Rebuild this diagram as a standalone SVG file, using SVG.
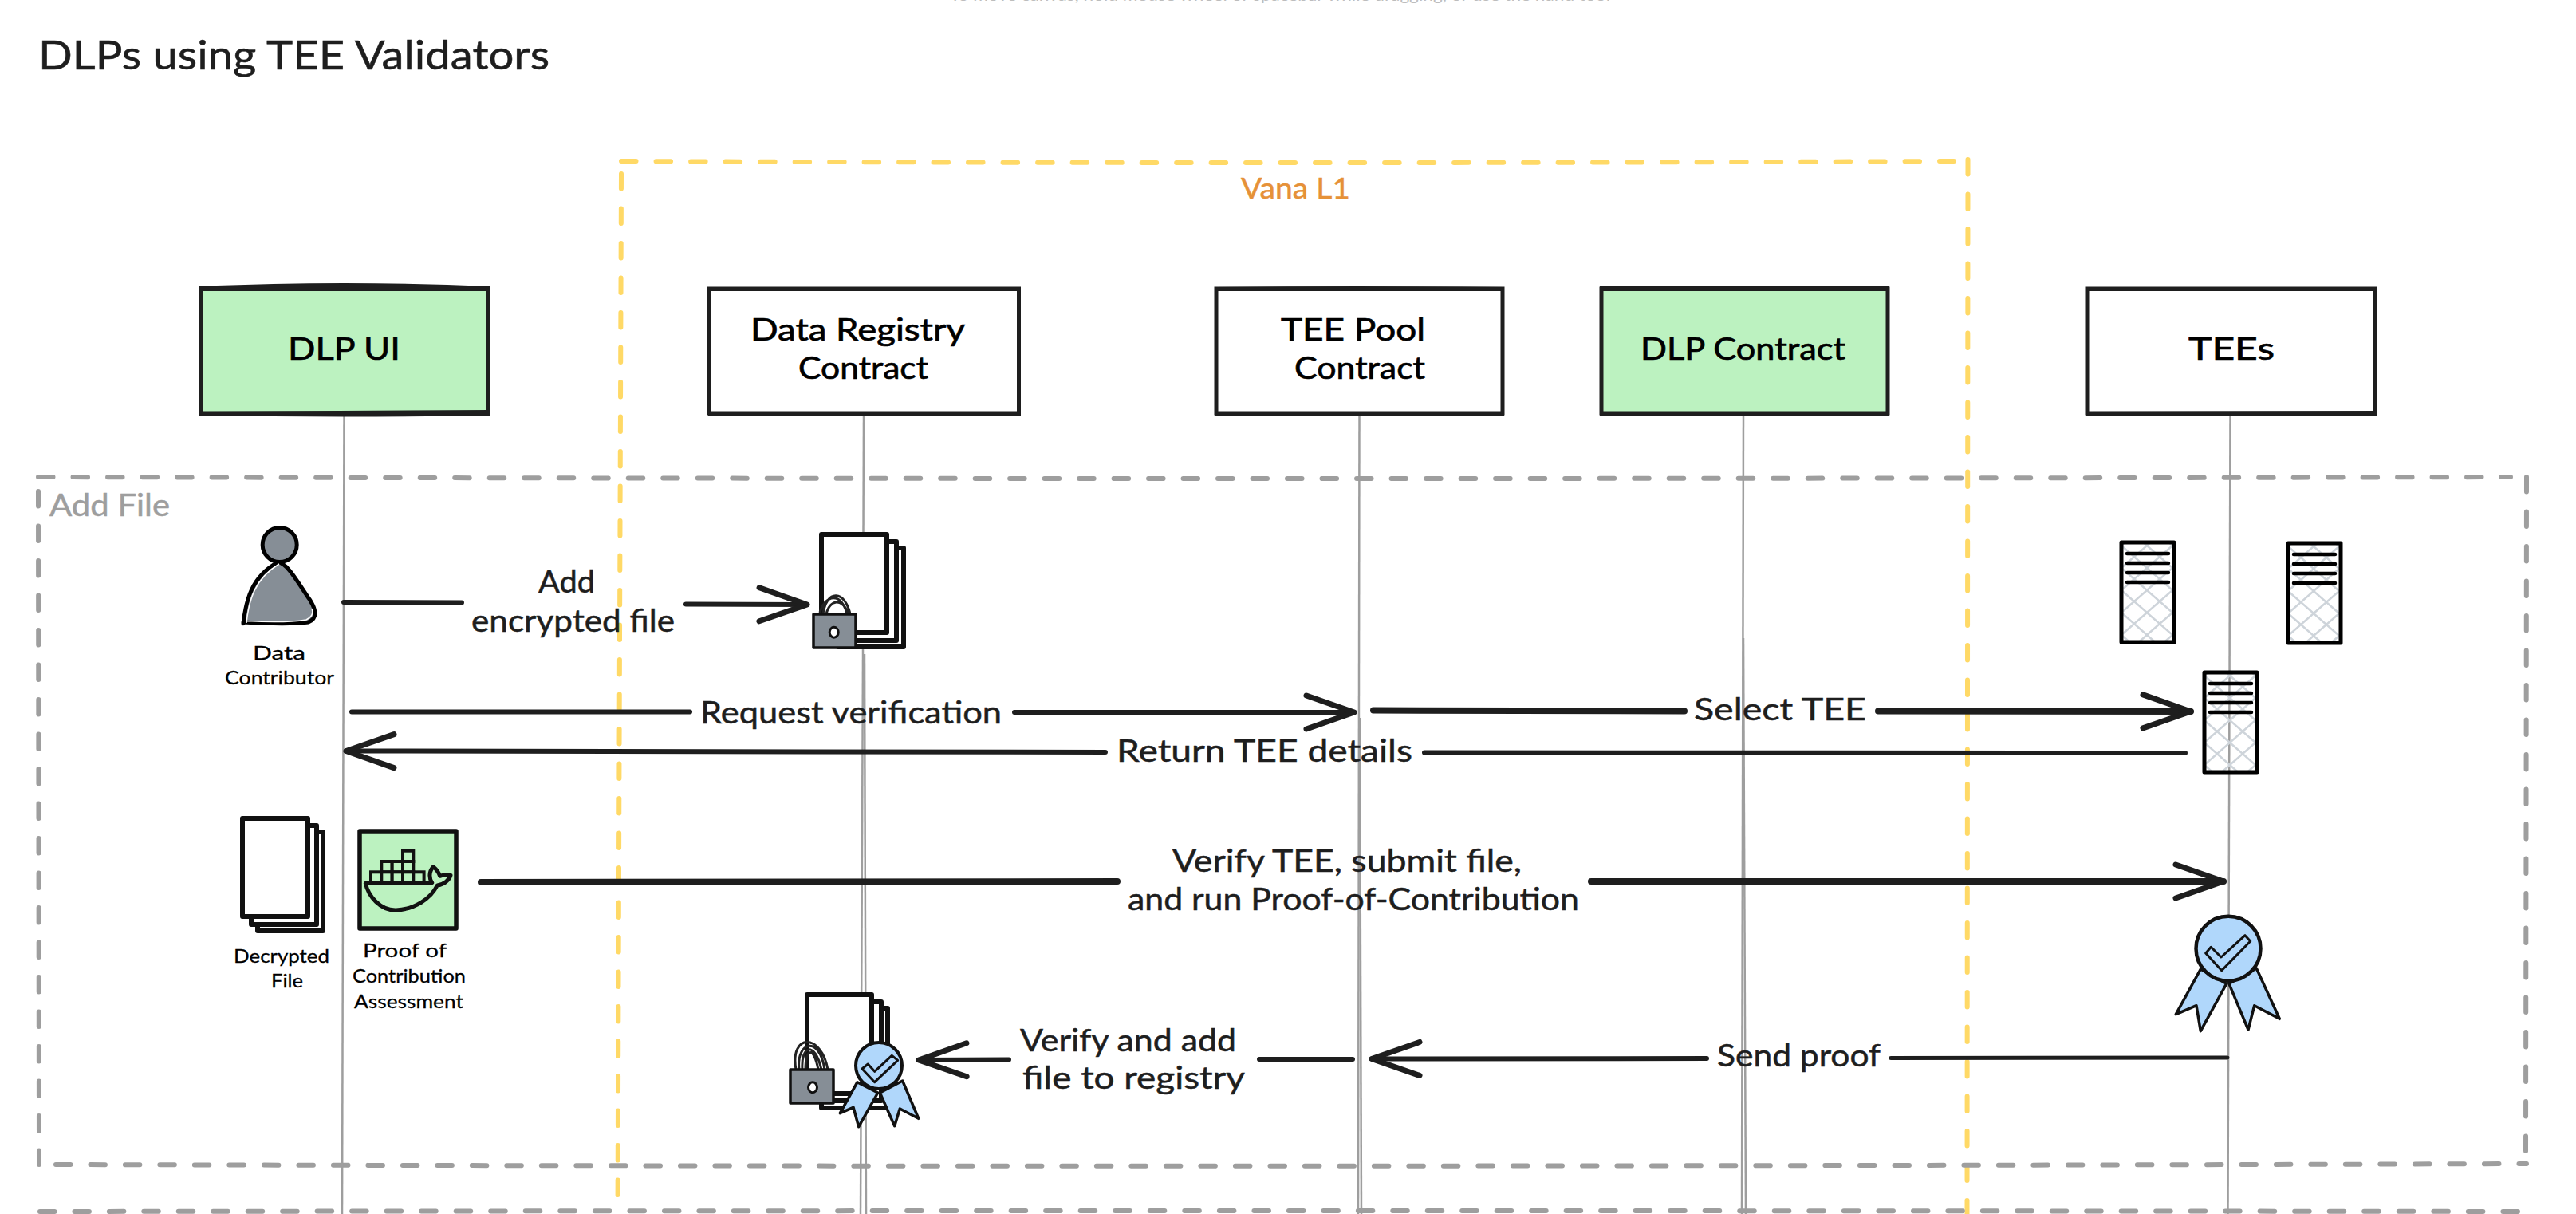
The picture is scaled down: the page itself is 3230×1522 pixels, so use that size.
<svg xmlns="http://www.w3.org/2000/svg" width="3230" height="1522" viewBox="0 0 3230 1522">
<style>
text{font-family:"Lato","Noto Sans","DejaVu Sans",sans-serif;fill:#1e1e1e;stroke:#1e1e1e;stroke-width:.5}
.t-title{font-size:50px}
.t-node{font-size:39px;fill:#000;stroke:#000;stroke-width:.7}
.t-edge{font-size:38px}
.t-small{font-size:24px;fill:#000;stroke:#000;stroke-width:.3}
.t-frame{font-size:38px;fill:#9e9e9e;stroke:#9e9e9e}
.t-vana{font-size:36px;fill:#e69138;stroke:#e69138}
.t-hint{font-size:20px;fill:#bdbdbd;stroke:none}
.yellow{fill:none;stroke:#ffd966;stroke-width:6;stroke-dasharray:18.5 25;stroke-linecap:round}
.gray{fill:none;stroke:#9e9e9e;stroke-width:6;stroke-dasharray:18.5 25;stroke-linecap:round}
.life{fill:none;stroke:#9e9e9e;stroke-width:2.5}
.box{stroke:#1e1e1e;stroke-width:5;fill:#fff}
.green{fill:#bcf2c0}
.bar{fill:#1e1e1e}
.edge{fill:none;stroke:#1e1e1e;stroke-width:6;stroke-linecap:round}
.heavy{stroke-width:8}
.light{stroke-width:5}
.sheet{fill:#fff;stroke:#111;stroke-width:6;stroke-linejoin:round}
.lock{fill:#868e96;stroke:#111;stroke-width:3.5;stroke-linejoin:round}
.shackle{fill:none;stroke:#222;stroke-width:3}
.hole{fill:#fff;stroke:#111;stroke-width:3}
.badge{fill:#b0d7fb;stroke:#111;stroke-linejoin:round}
.cell{fill:#bcf2c0;stroke:#111;stroke-width:4}
.srv{fill:url(#hatch);stroke:#000;stroke-width:5;stroke-linejoin:round}
.srvl{stroke:#000;stroke-width:4.5;stroke-linecap:round}
</style>
<defs>
<pattern id="hatch" patternUnits="userSpaceOnUse" width="32" height="28" x="2" y="6">
<path d="M0,0L32,28M0,28L32,0" stroke="#ced4da" stroke-width="2.5" fill="none"/>
</pattern>
<marker id="head" markerUnits="userSpaceOnUse" markerWidth="72" markerHeight="60" refX="64" refY="30" orient="auto" overflow="visible">
<path d="M4,9L64,30L4,51" fill="none" stroke="#1e1e1e" stroke-width="7" stroke-linecap="round" stroke-linejoin="round"/>
</marker>
<g id="server">
<rect class="srv" x="2" y="2" width="66" height="125"/>
<path class="srvl" d="M9,16H61M9,28H61M9,40H61M9,52H61"/>
</g>
</defs>
<rect width="3230" height="1522" fill="#fff"/>
<text class="t-hint" x="1191" y="1" textLength="828" lengthAdjust="spacingAndGlyphs">To move canvas, hold mouse wheel or spacebar while dragging, or use the hand tool</text>
<text id="title" class="t-title" x="48" y="87" textLength="641" lengthAdjust="spacingAndGlyphs">DLPs using TEE Validators</text>

<g id="frame-vana">
<path class="yellow" d="M779,202Q1620,206 2450,202"/>
<path class="yellow" d="M779,218L774.5,1522"/>
<path class="yellow" d="M2467.5,200L2466.5,1522"/>
<text class="t-vana" x="1556" y="249" textLength="137" lengthAdjust="spacingAndGlyphs">Vana L1</text>
</g>
<g id="frame-add-file">
<path class="gray" d="M48,598Q1600,602 3148,598"/>
<path class="gray" d="M48,616L49,1460"/>
<path class="gray" d="M3168,598L3167,1458"/>
<path class="gray" d="M70,1460Q1600,1464 3168,1459"/>
<text class="t-frame" x="62" y="647" textLength="151" lengthAdjust="spacingAndGlyphs">Add File</text>
</g>
<g id="frame-next">
<path class="gray" d="M50,1519Q1600,1517 3172,1519"/>
</g>

<g id="lifelines">
<path class="life" d="M431.5,520L429,1522"/>
<path class="life" d="M1083,520L1082,820"/>
<path class="life" d="M1082,820L1079,1522"/>
<path class="life" d="M1084,820L1086,1522"/>
<path class="life" d="M1704.5,520L1703,1522"/>
<path class="life" d="M1705,900L1707,1522"/>
<path class="life" d="M2186,520L2184,1522"/>
<path class="life" d="M2186,800L2189,1522"/>
<path class="life" d="M2796.5,520L2793.5,1522"/>
</g>

<g id="connectors">
<g id="edge-add-file">
<path class="edge" d="M431,755L579,755.5"/>
<path class="edge" d="M860,757.5L1012,758" marker-end="url(#head)"/>
<text class="t-edge" x="675" y="743" textLength="71" lengthAdjust="spacingAndGlyphs">Add</text>
<text class="t-edge" x="591" y="792" textLength="255" lengthAdjust="spacingAndGlyphs">encrypted file</text>
</g>
<g id="edge-request">
<path class="edge" d="M441,892.5L865,892.5"/>
<path class="edge" d="M1272,893L1698,893" marker-end="url(#head)"/>
<text class="t-edge" x="878" y="907" textLength="378" lengthAdjust="spacingAndGlyphs">Request verification</text>
</g>
<g id="edge-select">
<path class="edge heavy" d="M1722,890.5L2112,891.5"/>
<path class="edge heavy" d="M2355,891.5L2747,892" marker-end="url(#head)"/>
<text class="t-edge" x="2124" y="903" textLength="216" lengthAdjust="spacingAndGlyphs">Select TEE</text>
</g>
<g id="edge-return">
<path class="edge" d="M2740,944L1786,943.5"/>
<path class="edge" d="M1386,943L434,941.5" marker-end="url(#head)"/>
<text class="t-edge" x="1400" y="955" textLength="371" lengthAdjust="spacingAndGlyphs">Return TEE details</text>
</g>
<g id="edge-verify">
<path class="edge heavy" d="M603,1106L1401,1105"/>
<path class="edge heavy" d="M1995,1105L2788,1105" marker-end="url(#head)"/>
<text class="t-edge" x="1470" y="1093" textLength="438" lengthAdjust="spacingAndGlyphs">Verify TEE, submit file,</text>
<text class="t-edge" x="1414" y="1141" textLength="566" lengthAdjust="spacingAndGlyphs">and run Proof-of-Contribution</text>
</g>
<g id="edge-send">
<path class="edge light" d="M2793,1326L2371,1326.5"/>
<path class="edge" d="M2140,1327L1720,1327.5" marker-end="url(#head)"/>
<text class="t-edge" x="2153" y="1337" textLength="205" lengthAdjust="spacingAndGlyphs">Send proof</text>
</g>
<g id="edge-add-registry">
<path class="edge" d="M1696,1328L1579,1328"/>
<path class="edge" d="M1265,1328.5L1152,1329" marker-end="url(#head)"/>
<text class="t-edge" x="1279" y="1318" textLength="271" lengthAdjust="spacingAndGlyphs">Verify and add</text>
<text class="t-edge" x="1282" y="1365" textLength="279" lengthAdjust="spacingAndGlyphs">file to registry</text>
</g>
</g>

<g id="node-dlp-ui">
<rect class="box green" x="252.5" y="362" width="359" height="156"/>
<path class="bar" d="M250,359Q431,351 614,359L614,365L250,365Z"/>
<path class="bar" d="M250,516L614,514L614,521Q431,524 250,521Z"/>
<text class="t-node" x="361" y="451" textLength="141" lengthAdjust="spacingAndGlyphs">DLP UI</text>
</g>
<g id="node-data-registry">
<rect class="box" x="889.5" y="362" width="388" height="156"/>
<path class="bar" d="M888,360L1280,360L1280,365L888,365Z"/>
<path class="bar" d="M888,516L1280,516L1280,521L888,521Z"/>
<text class="t-node" x="941" y="427" textLength="269" lengthAdjust="spacingAndGlyphs">Data Registry</text>
<text class="t-node" x="1001" y="475" textLength="163" lengthAdjust="spacingAndGlyphs">Contract</text>
</g>
<g id="node-tee-pool">
<rect class="box" x="1525" y="362" width="359" height="156"/>
<path class="bar" d="M1523,360Q1700,358 1886,360L1886,365L1523,365Z"/>
<path class="bar" d="M1523,516L1886,516L1886,521L1523,521Z"/>
<text class="t-node" x="1606" y="427" textLength="181" lengthAdjust="spacingAndGlyphs">TEE Pool</text>
<text class="t-node" x="1623" y="475" textLength="164" lengthAdjust="spacingAndGlyphs">Contract</text>
</g>
<g id="node-dlp-contract">
<rect class="box green" x="2008" y="362" width="359" height="156"/>
<path class="bar" d="M2006,359L2369,359L2369,365L2006,365Z"/>
<path class="bar" d="M2006,516L2369,516L2369,521L2006,521Z"/>
<text class="t-node" x="2057" y="451" textLength="257" lengthAdjust="spacingAndGlyphs">DLP Contract</text>
</g>
<g id="node-tees">
<rect class="box" x="2617" y="362" width="361" height="156"/>
<path class="bar" d="M2615,360L2980,360L2980,365L2615,365Z"/>
<path class="bar" d="M2615,516L2980,515L2980,521L2615,521Z"/>
<text class="t-node" x="2744" y="451" textLength="108" lengthAdjust="spacingAndGlyphs">TEEs</text>
</g>

<g id="node-data-contributor">
<circle cx="350.7" cy="683" r="21.5" fill="#868e96" stroke="#000" stroke-width="5"/>
<path d="M305,781.7C308.3,753.3 315,723.3 348.3,705C360,705 373.3,730 388.3,751.7C396.7,765 398.3,775 386.7,780C366.7,782.7 333.3,781.7 305,780Z" fill="#868e96" stroke="#000" stroke-width="5" stroke-linejoin="round"/>
<path d="M309,781C312,752 320,725 350,707M310,778.5C335,780 365,780 384,777C392,773 393,768 391,763" fill="none" stroke="#fff" stroke-width="1.5"/>
<text class="t-small" x="317" y="827" textLength="66" lengthAdjust="spacingAndGlyphs">Data</text>
<text class="t-small" x="282" y="858" textLength="137" lengthAdjust="spacingAndGlyphs">Contributor</text>
</g>

<g id="node-decrypted-file">
<rect class="sheet" x="323" y="1043" width="82" height="124"/>
<rect class="sheet" x="315" y="1035" width="82" height="124"/>
<rect class="sheet" x="304" y="1026" width="82" height="123"/>
<text class="t-small" x="293" y="1207" textLength="120" lengthAdjust="spacingAndGlyphs">Decrypted</text>
<text class="t-small" x="340" y="1238" textLength="40" lengthAdjust="spacingAndGlyphs">File</text>
</g>

<g id="node-poc">
<rect x="451" y="1042" width="121" height="122" fill="#bcf2c0" stroke="#111" stroke-width="5.5" stroke-linejoin="round"/>
<rect class="cell" x="505" y="1066.7" width="13.3" height="13.3"/>
<rect class="cell" x="478.3" y="1080" width="13.3" height="13.3"/>
<rect class="cell" x="491.7" y="1080" width="13.3" height="13.3"/>
<rect class="cell" x="505" y="1080" width="13.3" height="13.3"/>
<rect class="cell" x="465" y="1093.3" width="13.3" height="13.3"/>
<rect class="cell" x="478.3" y="1093.3" width="13.3" height="13.3"/>
<rect class="cell" x="491.7" y="1093.3" width="13.3" height="13.3"/>
<rect class="cell" x="505" y="1093.3" width="13.3" height="13.3"/>
<rect class="cell" x="518.3" y="1093.3" width="13.3" height="13.3"/>
<path d="M458.3,1107.3C461.7,1123.3 476.7,1141.7 496.7,1141C520,1140 540,1126.7 548.3,1110C556.7,1109 563.3,1103.3 565,1097.3C558.3,1096 551.7,1098.3 551.7,1098.3C549.3,1091.7 543.3,1086.7 543.3,1086.7C537.3,1093.3 538.3,1101.7 541.7,1106.7L458.3,1107.3Z" fill="none" stroke="#111" stroke-width="5" stroke-linejoin="round"/>
<text class="t-small" x="455" y="1200" textLength="105" lengthAdjust="spacingAndGlyphs">Proof of</text>
<text class="t-small" x="442" y="1232" textLength="142" lengthAdjust="spacingAndGlyphs">Contribution</text>
<text class="t-small" x="444" y="1264" textLength="137" lengthAdjust="spacingAndGlyphs">Assessment</text>
</g>

<g id="node-encrypted-file">
<rect class="sheet" x="1051" y="687" width="82" height="124"/>
<rect class="sheet" x="1042" y="679" width="82" height="124"/>
<rect class="sheet" x="1030" y="670" width="82" height="123"/>
<path class="shackle" d="M1032,770C1036,738 1060,740 1066,770M1028,768C1034,745 1056,742 1062,770M1036,770C1040,752 1056,748 1064,770"/>
<rect class="lock" x="1020" y="770" width="53" height="42"/>
<ellipse class="hole" cx="1045.7" cy="792.7" rx="5.5" ry="6.5"/>
</g>

<g id="node-registered-file">
<rect class="sheet" x="1030" y="1264" width="83" height="125"/>
<rect class="sheet" x="1022" y="1256" width="83" height="124"/>
<rect class="sheet" x="1012" y="1247" width="81" height="124"/>
<path class="shackle" d="M998,1341C990,1295 1030,1295 1038,1341M1002,1341C998,1305 1028,1298 1034,1341M1006,1341C1004,1310 1022,1305 1030,1341M1010,1341C1010,1315 1020,1310 1026,1341"/>
<rect class="lock" x="991" y="1341" width="54" height="42"/>
<ellipse class="hole" cx="1019" cy="1363.3" rx="5.5" ry="6.5"/>
<path class="badge" stroke-width="3.5" d="M1075,1356.7L1053.3,1395.7L1070,1388.3L1076.7,1412.7L1100.7,1370Z"/>
<path class="badge" stroke-width="3.5" d="M1103.3,1370L1121.7,1411.7L1128.3,1390L1151.7,1402.3L1131.7,1355Z"/>
<circle class="badge" stroke-width="4" cx="1102" cy="1336" r="29"/>
<path class="badge" stroke-width="3" d="M1081,1340L1088.3,1334L1096.7,1343.3L1118.3,1323.3L1125.7,1329.3L1096.7,1356.7Z"/>
</g>

<g id="node-badge">
<path class="badge" stroke-width="3.5" d="M2759.3,1215L2728.3,1271.7L2754,1260.7L2759.3,1292.7L2791.7,1233.3Z"/>
<path class="badge" stroke-width="3.5" d="M2795,1233.3L2819,1291L2826.7,1260.7L2858.3,1277.3L2829.3,1214Z"/>
<circle class="badge" stroke-width="4.5" cx="2794" cy="1189.3" r="40.5"/>
<path class="badge" stroke-width="3" d="M2765.7,1195L2772.3,1187.3L2785,1200L2815,1172.7L2821.7,1180L2785.7,1216.7Z"/>
</g>

<g id="node-tee-1"><use href="#server" x="2658" y="678"/></g>
<g id="node-tee-2"><use href="#server" x="2867" y="679"/></g>
<g id="node-tee-3"><use href="#server" x="2762" y="841"/></g>
</svg>
